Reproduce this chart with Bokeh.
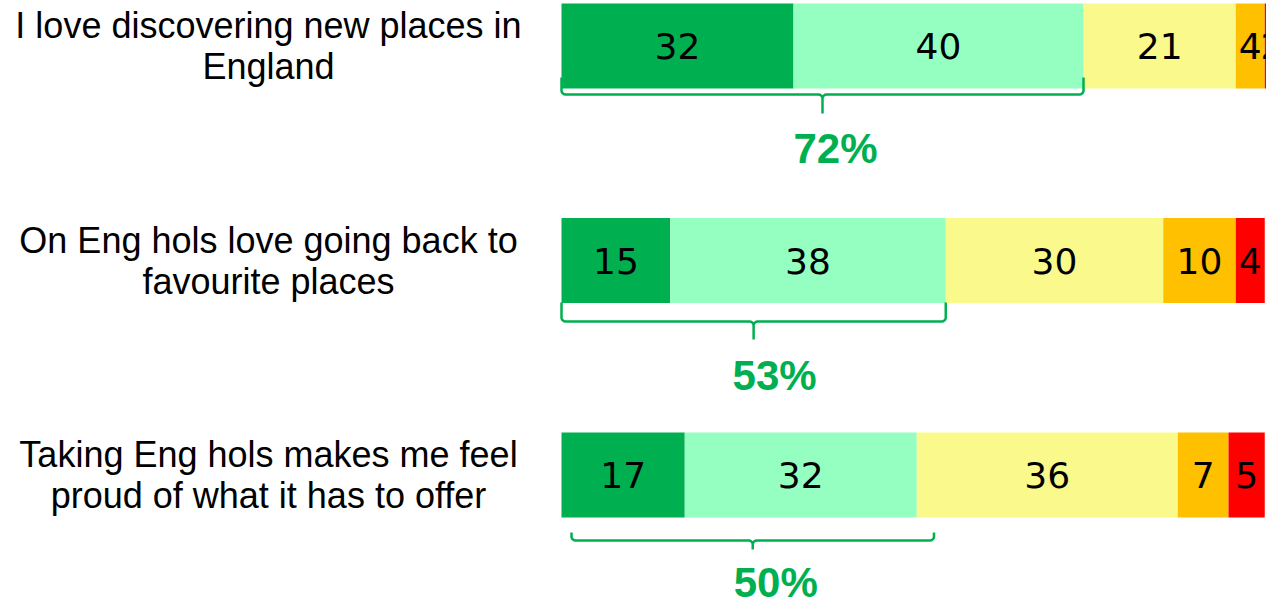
import numpy as np
from bokeh.plotting import figure
from bokeh.models import ColumnDataSource, Range1d
from bokeh.core.properties import value
from bokeh.embed import file_html
from bokeh.resources import INLINE

# ---------------- data ----------------
statements = [
    "I love discovering new places in\nEngland",
    "On Eng hols love going back to\nfavourite places",
    "Taking Eng hols makes me feel\nproud of what it has to offer",
]
strongly_agree = [32, 15, 17]
agree = [40, 38, 32]
neither = [21, 30, 36]
disagree = [4, 10, 7]
strongly_disagree = [2, 4, 5]
net_agree = [72, 53, 50]

series = [strongly_agree, agree, neither, disagree, strongly_disagree]
colors = ["#00B050", "#94FFC0", "#FAFA8C", "#FFC000", "#FF0000"]

# ---------------- layout ----------------
W, H = 1266, 600
PX_X = 7.25          # pixels per percentage point
PX_Y = 214.5         # pixels per row
X0_PX = 561          # position of value 0 inside the frame
Y0_PX = 45.5         # centre of first row from top of frame
x_start = -X0_PX / PX_X
x_end = x_start + W / PX_X
y_top = -Y0_PX / PX_Y
y_bot = y_top + H / PX_Y

p = figure(width=W, height=H, output_backend="svg", toolbar_location=None,
           x_range=Range1d(x_start, x_end), y_range=Range1d(y_bot, y_top),
           x_axis_location=None, y_axis_location=None, min_border=0)
p.outline_line_color = None
p.grid.visible = False
p.background_fill_color = "white"

rows = list(range(len(statements)))
bar_h = 85 / PX_Y

# stacked bars
left = np.zeros(len(rows))
for vals, col in zip(series, colors):
    vals = np.array(vals, dtype=float)
    src = ColumnDataSource(dict(y=rows, left=left, right=left + vals,
                                mid=left + vals / 2, lab=[str(int(v)) for v in vals]))
    p.hbar(y="y", left="left", right="right", height=bar_h, source=src,
           fill_color=col, line_color=None)
    p.text(x="mid", y="y", text="lab", source=src, text_font=value("DejaVu Sans"),
           text_font_size="36px", text_color="black", text_align="center",
           text_baseline="middle")
    left = left + vals

# statement labels
p.text(x=[(268 - 561) / PX_X] * 3, y=rows, text=statements,
       text_font=value("Liberation Sans"), text_font_size="36px", text_color="black",
       text_align="center", text_baseline="middle", text_line_height=1.0)

# braces under the agree portion
brace_top = [31.5, 42, 57.5]
brace_h = [48.5, 61, 65.5]
brace_tick = [67.5, 79, 74.5]
brace_shift = [0, 0, 10]
lab_dy = [102.5, 115, 107.5]
lab_dx = [13, 21, 23]
r = 4.0


def arc(cx, cy, a0, a1, n=6):
    t = np.radians(np.linspace(a0, a1, n))
    return list(zip(cx + r * np.cos(t), cy + r * np.sin(t)))


xs, ys, lx, ly = [], [], [], []
for i in rows:
    L = net_agree[i] * PX_X
    m = L / 2
    top, h, tk = brace_top[i], brace_h[i], brace_tick[i]
    pts = [(0, top), (0, h - r)]
    pts += arc(r, h - r, 180, 90)
    pts += [(m - r, h)]
    pts += arc(m - r, h + r, -90, 0)
    pts += [(m, tk), (m, h + r)]
    pts += arc(m + r, h + r, 180, 270)
    pts += [(L - r, h)]
    pts += arc(L - r, h - r, 90, 0)
    pts += [(L, top)]
    u = np.array([q[0] for q in pts]) + brace_shift[i]
    v = np.array([q[1] for q in pts])
    xs.append(list(u / PX_X))
    ys.append(list(i + v / PX_Y))
    lx.append((brace_shift[i] + m + lab_dx[i]) / PX_X)
    ly.append(i + lab_dy[i] / PX_Y)

p.multi_line(xs=xs, ys=ys, line_color="#00B050", line_width=2.5)
p.text(x=lx, y=ly, text=[f"{v}%" for v in net_agree], text_font=value("Liberation Sans"),
       text_font_size="42px", text_font_style="bold", text_color="#00B050",
       text_align="center", text_baseline="middle")

open("out.html", "w").write(file_html(p, INLINE))
